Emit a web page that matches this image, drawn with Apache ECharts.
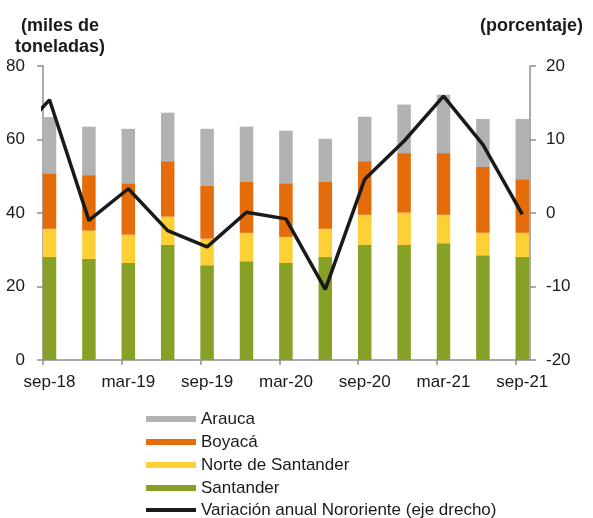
<!DOCTYPE html>
<html>
<head>
<meta charset="utf-8">
<script src="https://cdn.jsdelivr.net/npm/echarts@6/dist/echarts.min.js"></script>
<style>
  html, body { margin: 0; padding: 0; background: #fff; }
  #chart { width: 593px; height: 518px; }
</style>
</head>
<body>
<div id="chart"></div>
<script>
// Quarters (jun-18 only feeds the clipped start of the line)
const quarters = ['jun-18', 'sep-18', 'dec-18', 'mar-19', 'jun-19', 'sep-19', 'dec-19',
    'mar-20', 'jun-20', 'sep-20', 'dec-20', 'mar-21', 'jun-21', 'sep-21'];

// Production by department, thousands of tonnes (jun-18 not shown)
const santander = [null, 28.0, 27.5, 26.4, 31.3, 25.8, 26.9, 26.4, 28.0, 31.3, 31.3, 31.8, 28.5, 28.0];
const norteSantander = [null, 7.7, 7.7, 7.7, 7.7, 7.2, 7.7, 7.1, 7.7, 8.2, 8.8, 7.7, 6.1, 6.6];
const boyaca = [null, 15.1, 15.1, 14.0, 15.1, 14.5, 14.0, 14.6, 12.9, 14.6, 16.2, 16.8, 17.9, 14.6];
const arauca = [null, 15.3, 13.2, 14.8, 13.2, 15.4, 14.9, 14.3, 11.6, 12.1, 13.2, 15.9, 13.1, 16.4];

// Annual change, percent (right axis), jun-18 .. sep-21
const variacion = [9.5, 15.4, -1.0, 3.3, -2.4, -4.6, 0.1, -0.8, -10.4, 4.6, 9.8, 15.9, 9.3, -0.2];

// labelled quarters: every second one starting at sep-18
const labelIdx = [1, 3, 5, 7, 9, 11, 13];
const tickShift = 0.165; // ticks sit on the left edge of the bars

const axisGray = '#8f8f8f';
const textColor = '#1a1a1a';
const font = 'Liberation Sans, Arial, sans-serif';

const chart = echarts.init(document.getElementById('chart'));

function barSeries(name, color, data) {
    return {
        name: name,
        type: 'bar',
        stack: 'prod',
        xAxisIndex: 0,
        yAxisIndex: 0,
        barWidth: 13.5,
        itemStyle: { color: color },
        data: data
    };
}

const option = {
    animation: false,
    textStyle: { fontFamily: font },
    title: [
        {
            text: '(miles de\ntoneladas)',
            left: 55,
            top: 11,
            textAlign: 'center',
            textStyle: { fontSize: 18, fontWeight: 'bold', color: textColor, lineHeight: 21, fontFamily: font }
        },
        {
            text: '(porcentaje)',
            right: 5,
            top: 11,
            textStyle: { fontSize: 18, fontWeight: 'bold', color: textColor, lineHeight: 21, fontFamily: font }
        }
    ],
    legend: [
        {
            orient: 'vertical',
            left: 146,
            top: 410,
            padding: 0,
            itemWidth: 50,
            itemHeight: 6,
            itemGap: 5,
            icon: 'rect',
            data: ['Arauca', 'Boyacá', 'Norte de Santander', 'Santander'],
            textStyle: { fontSize: 17, color: textColor, lineHeight: 18, fontFamily: font }
        },
        {
            orient: 'vertical',
            left: 146,
            top: 501,
            padding: 0,
            itemWidth: 50,
            itemHeight: 4,
            icon: 'rect',
            data: ['Variación anual Nororiente (eje drecho)'],
            textStyle: { fontSize: 17, color: textColor, lineHeight: 18, fontFamily: font }
        }
    ],
    grid: [
        // bars: one quarter = 39.4px, jun-18 sits off the left edge
        { left: 10.1, right: 70.7, top: 66, bottom: 158, containLabel: false },
        // visible axes and the line
        { left: 43, right: 63, top: 66, bottom: 158, containLabel: false }
    ],
    xAxis: [
        {
            type: 'category',
            gridIndex: 0,
            data: quarters,
            boundaryGap: false,
            show: false
        },
        {
            type: 'value',
            gridIndex: 1,
            min: 1 - tickShift,
            max: 13.195,
            splitLine: { show: false },
            axisLine: { lineStyle: { color: axisGray, width: 1.5 } },
            axisTick: {
                length: 5,
                lineStyle: { color: axisGray, width: 1.5 },
                customValues: labelIdx.map(i => i - tickShift)
            },
            axisLabel: {
                fontSize: 17,
                color: textColor,
                margin: 14,
                customValues: labelIdx,
                formatter: v => quarters[Math.round(v)]
            }
        }
    ],
    yAxis: [
        {
            type: 'value',
            gridIndex: 0,
            min: 0,
            max: 80,
            show: false
        },
        {
            type: 'value',
            gridIndex: 1,
            min: 0,
            max: 80,
            interval: 20,
            splitLine: { show: false },
            axisLine: { show: true, lineStyle: { color: axisGray, width: 1.5 } },
            axisTick: { show: true, length: 6, lineStyle: { color: axisGray, width: 1.5 } },
            axisLabel: { fontSize: 17, color: textColor, margin: 18 }
        },
        {
            type: 'value',
            gridIndex: 1,
            min: -20,
            max: 20,
            interval: 10,
            position: 'right',
            splitLine: { show: false },
            axisLine: { show: true, lineStyle: { color: axisGray, width: 1.5 } },
            axisTick: { show: true, length: 6, lineStyle: { color: axisGray, width: 1.5 } },
            axisLabel: { fontSize: 17, color: textColor, margin: 16 }
        }
    ],
    series: [
        barSeries('Santander', '#87a026', santander),
        barSeries('Norte de Santander', '#fdd036', norteSantander),
        barSeries('Boyacá', '#e46c0a', boyaca),
        barSeries('Arauca', '#b2b2b2', arauca),
        {
            name: 'Variación anual Nororiente (eje drecho)',
            type: 'line',
            xAxisIndex: 1,
            yAxisIndex: 2,
            showSymbol: false,
            symbol: 'none',
            clip: true,
            color: '#1a1a1a',
            lineStyle: { color: '#1a1a1a', width: 3.5 },
            itemStyle: { color: '#1a1a1a' },
            data: variacion.map((v, i) => [i, v])
        }
    ]
};

chart.setOption(option);
</script>
</body>
</html>
